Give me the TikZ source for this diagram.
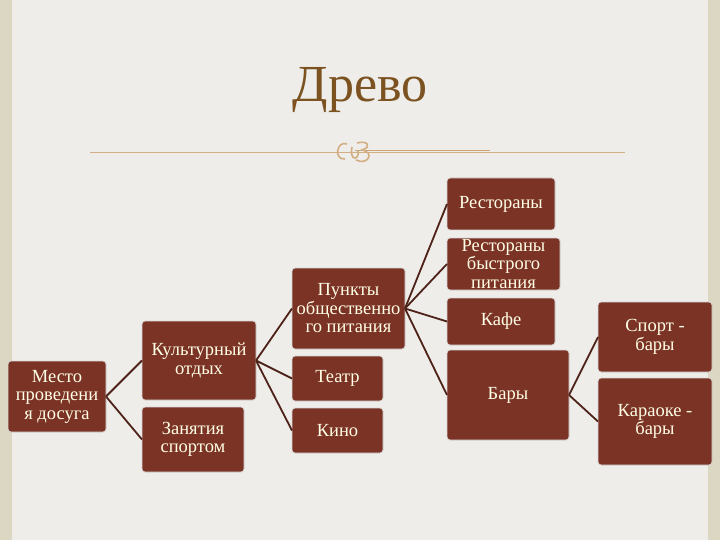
\documentclass[tikz,border=0pt]{standalone}
\usepackage{fontspec}
\setmainfont{Liberation Serif}
\begin{document}
\begin{tikzpicture}[x=1pt,y=-1pt,
  box/.style={draw=white!85!black,line width=0.8pt,fill=boxc,rounded corners=3pt},
  lbl/.style={text=white!90!yellow,align=center,font=\fontsize{18.5}{18.5}\selectfont,inner sep=0pt},
  conn/.style={draw=linec,line width=1.8pt}]
\definecolor{boxc}{HTML}{7B3325}
\definecolor{linec}{HTML}{4E2219}
\definecolor{bg}{HTML}{EEEDE9}
\definecolor{side}{HTML}{DCD7C3}
\definecolor{gold}{HTML}{D2AE82}
\definecolor{titc}{HTML}{7B5220}
\useasboundingbox (0,0) rectangle (720,540);
\fill[side] (0,0) rectangle (720,540);
\fill[bg] (12,0) rectangle (708,540);
\node[text=titc,font=\fontsize{52}{52}\selectfont] (title) at (360,90) {Древо};
\draw[gold,line width=0.8pt] (90,152) -- (625,152);
\draw[gold!80!brown,line width=1pt] (355,151) -- (490,151);
\draw[gold,line width=1.6pt] (347,144) .. controls (337,140) and (333,160) .. (345,159) (352,147) .. controls (349,162) and (360,160) .. (358,151) (357,143) .. controls (368,140) and (372,147) .. (362,150) .. controls (375,152) and (368,166) .. (356,160);
\newcommand{\bx}[6]{\path[box] (#2,#3) rectangle (#4,#5); \node[lbl] (#1) at ({(#2+#4)/2},{(#3+#5)/2}) {#6};
 \coordinate (#1w) at (#2,{(#3+#5)/2}); \coordinate (#1e) at (#4,{(#3+#5)/2});}
\bx{m}{8}{361}{106}{432}{Место\\проведени\\я досуга}
\bx{k}{142}{321}{256}{400}{Культурный\\отдых}
\bx{z}{142}{407}{244}{472}{Занятия\\спортом}
\bx{p}{292}{268}{405}{349}{Пункты\\общественно\\го питания}
\bx{t}{292}{356}{383}{401}{Театр}
\bx{c}{292}{408}{383}{453}{Кино}
\bx{r1}{447}{178}{555}{230}{Рестораны}
\bx{r2}{447}{238}{560}{290}{Рестораны\\быстрого\\питания}
\bx{r3}{447}{298}{555}{345}{Кафе}
\bx{b}{447}{350}{569}{440}{Бары}
\bx{s}{598}{302}{712}{372}{Спорт -\\бары}
\bx{o}{598}{378}{712}{465}{Караоке -\\бары}
\draw[conn] (me) -- (kw); \draw[conn] (me) -- (zw);
\draw[conn] (ke) -- (pw); \draw[conn] (ke) -- (tw); \draw[conn] (ke) -- (cw);
\draw[conn] (pe) -- (r1w); \draw[conn] (pe) -- (r2w); \draw[conn] (pe) -- (r3w); \draw[conn] (pe) -- (bw);
\draw[conn] (be) -- (sw); \draw[conn] (be) -- (ow);
\end{tikzpicture}
\end{document}
